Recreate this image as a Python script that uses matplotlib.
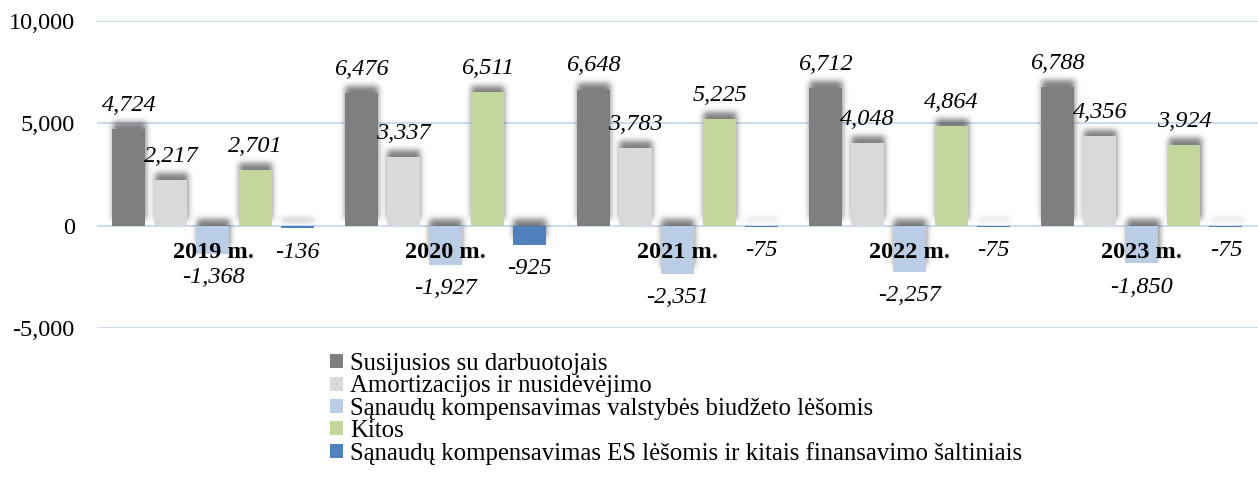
import numpy as np
import matplotlib
matplotlib.use("Agg")
import matplotlib.pyplot as plt
from matplotlib.ticker import FuncFormatter

# data
years = ["2019 m.", "2020 m.", "2021 m.", "2022 m.", "2023 m."]
series_names = [
    "Susijusios su darbuotojais",
    "Amortizacijos ir nusidėvėjimo",
    "Sąnaudų kompensavimas valstybės biudžeto lėšomis",
    "Kitos",
    "Sąnaudų kompensavimas ES lėšomis ir kitais finansavimo šaltiniais",
]
darbuotojai = [4724, 6476, 6648, 6712, 6788]
amortizacija = [2217, 3337, 3783, 4048, 4356]
valstybes = [-1368, -1927, -2351, -2257, -1850]
kitos = [2701, 6511, 5225, 4864, 3924]
es_lesos = [-136, -925, -75, -75, -75]
colors = ["#7f7f7f", "#d9d9d9", "#b9cde5", "#c3d69b", "#4f81bd"]

series = [darbuotojai, amortizacija, valstybes, kitos, es_lesos]

plt.rcParams['font.family'] = ['Liberation Serif', 'DejaVu Serif']
FS = 17.5

fig = plt.figure(figsize=(12.58, 4.78), dpi=100)
ax = fig.add_axes([0.077, 0.314, 0.923, 0.642])

x = np.arange(len(years))
step = 0.181
width = 0.142

ax.set_ylim(-5000, 10000)
ax.set_xlim(-0.5, len(years) - 0.5)

all_bars = []
for i, (vals, col) in enumerate(zip(series, colors)):
    xs = x + (i - 2) * step
    bars = ax.bar(xs, vals, width, color=col, label=series_names[i], zorder=3)
    all_bars.extend(bars)
    for xi, v in zip(xs, vals):
        off = 17 if v > 0 else -17
        ax.annotate(f"{v:,}", (xi, v), xytext=(0, off), textcoords="offset points",
                    ha="center", va="center", fontsize=FS, fontstyle="italic", zorder=5)

# blurred shadow, shifted up a few pixels (like the Excel "outer shadow")
bb = ax.get_window_extent()
W, H = int(round(bb.width)), int(round(bb.height))
mask = np.zeros((H, W))
shift = 7
for b in all_bars:
    (x0, y0), (x1, y1) = ax.transData.transform([(b.get_x(), b.get_y()),
                                                 (b.get_x() + b.get_width(), b.get_y() + b.get_height())])
    ylo, yhi = sorted([y0, y1])
    c0, c1 = int(round(x0 - bb.x0)), int(round(x1 - bb.x0))
    r0 = int(round(H - (yhi + shift - bb.y0)))
    r1 = int(round(H - (ylo + shift - bb.y0)))
    mask[max(r0, 0):max(r1, 0), max(c0, 0):max(c1, 0)] = 1.0
sig = 3.0
t = np.arange(-10, 11)
k = np.exp(-t ** 2 / (2 * sig ** 2))
k /= k.sum()
mask = np.apply_along_axis(lambda m: np.convolve(m, k, mode='same'), 0, mask)
mask = np.apply_along_axis(lambda m: np.convolve(m, k, mode='same'), 1, mask)
img = np.zeros((H, W, 4))
img[..., :3] = 0.22
img[..., 3] = mask * 0.65
ax.imshow(img, extent=(-0.5, len(years) - 0.5, -5000, 10000), aspect='auto',
          zorder=2, interpolation='bilinear')

for xi, yr in zip(x, years):
    ax.annotate(yr, (xi, 0), xytext=(0, -19.5), textcoords="offset points",
                ha="center", va="center", fontsize=FS, fontweight="bold", zorder=6)

ax.set_ylim(-5000, 10000)
ax.set_xlim(-0.5, len(years) - 0.5)
ax.set_yticks([-5000, 0, 5000, 10000])
ax.yaxis.set_major_formatter(FuncFormatter(lambda v, p: f"{int(v):,}"))
ax.tick_params(axis='y', length=0, labelsize=FS, pad=16)
ax.set_xticks([])
ax.grid(axis='y', color='#c6d9f0', linewidth=1.3, zorder=0)
for s in ax.spines.values():
    s.set_visible(False)

leg = ax.legend(loc="upper left", bbox_to_anchor=(0.1925, -0.05), frameon=False,
                fontsize=17.8, labelspacing=0.01, handlelength=0.5, handleheight=0.5,
                handletextpad=0.3, borderaxespad=0)

fig.savefig("out.png", dpi=100)
